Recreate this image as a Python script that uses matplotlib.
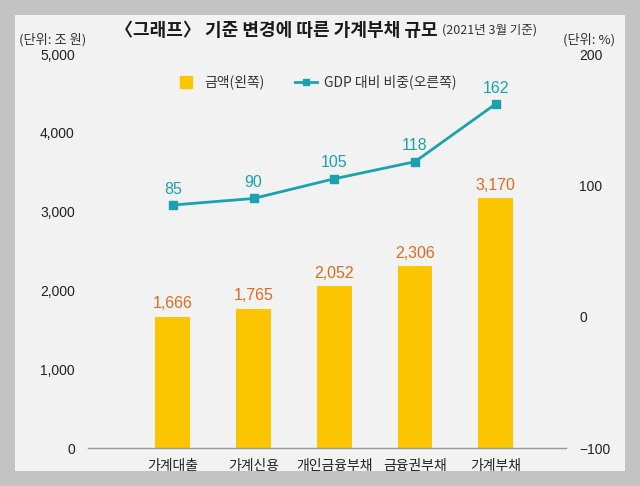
import matplotlib
matplotlib.use("Agg")
import matplotlib.pyplot as plt
from matplotlib.patches import Rectangle
from matplotlib.lines import Line2D
from matplotlib.ticker import FuncFormatter

plt.rcParams['font.family'] = ['Noto Sans CJK KR', 'DejaVu Sans']

categories = ['가계대출', '가계신용', '개인금융부채', '금융권부채', '가계부채']
amounts = [1666, 1765, 2052, 2306, 3170]
gdp_ratio = [85, 90, 105, 118, 162]
left_ticks = [0, 1000, 2000, 3000, 4000, 5000]
right_ticks = [-100, 0, 100, 200]

title = '〈그래프〉 기준 변경에 따른 가계부채 규모'
subtitle = '(2021년 3월 기준)'
left_unit = '(단위: 조 원)'
right_unit = '(단위: %)'
legend_bar = '금액(왼쪽)'
legend_line = 'GDP 대비 비중(오른쪽)'

BAR = '#fbc600'
ORANGE = '#df6a1f'
TEAL = '#1ba2af'
TXT = '#222222'
NUMF = ['Liberation Sans', 'DejaVu Sans']

W, H = 640, 486
fig = plt.figure(figsize=(6.4, 4.86), dpi=100)
fig.patch.set_facecolor('#c3c3c3')

# inner panel
px0, px1, py0, py1 = 15, 625, 15, 471
fig.patches.append(Rectangle((px0 / W, 1 - py1 / H), (px1 - px0) / W, (py1 - py0) / H,
                             transform=fig.transFigure, facecolor='#f2f2f2',
                             edgecolor='none', zorder=-5))

ax_l, ax_r, ax_b, ax_t = 88, 566, 448, 54
ax = fig.add_axes([ax_l / W, 1 - ax_b / H, (ax_r - ax_l) / W, (ax_b - ax_t) / H])
ax.set_facecolor('none')
x = list(range(len(categories)))
bars = ax.bar(x, amounts, width=0.43, color=BAR, zorder=2)
ax.set_xlim(-1.05, 4.87)
ax.set_ylim(0, 5000)
ax.set_yticks(left_ticks)
ax.yaxis.set_major_formatter(FuncFormatter(lambda v, p: f'{int(v):,}'))
ax.set_xticks(x)
ax.set_xticklabels(categories, fontsize=10, color=TXT)
for s in ['top', 'right', 'left']:
    ax.spines[s].set_visible(False)
ax.spines['bottom'].set_color('#9a9a9a')
ax.spines['bottom'].set_linewidth(1.0)
ax.tick_params(axis='y', length=0, pad=9.5, labelsize=10, labelcolor=TXT)
ax.tick_params(axis='x', length=0, pad=8)
for lab in ax.get_yticklabels():
    lab.set_family(NUMF)

for xi, v in zip(x, amounts):
    ax.annotate(f'{v:,}', (xi, v), xytext=(0, 4), textcoords='offset points',
                ha='center', va='bottom', fontsize=11.5, color=ORANGE, family=NUMF)

ax2 = ax.twinx()
ax2.set_ylim(-100, 200)
ax2.set_yticks(right_ticks)
ax2.yaxis.set_major_formatter(FuncFormatter(lambda v, p: f'{int(v)}'.replace('-', '−')))
for s in ['top', 'left', 'right', 'bottom']:
    ax2.spines[s].set_visible(False)
ax2.tick_params(axis='y', length=0, pad=9.5, labelsize=10, labelcolor=TXT)
for lab in ax2.get_yticklabels():
    lab.set_family(NUMF)
ax2.plot(x, gdp_ratio, color=TEAL, lw=2, marker='s', markersize=6, zorder=3)
for xi, v in zip(x, gdp_ratio):
    ax2.annotate(f'{v}', (xi, v), xytext=(0, 6), textcoords='offset points',
                 ha='center', va='bottom', fontsize=11.5, color=TEAL, family=NUMF)

# texts
fig.text(115 / W, 1 - 30 / H, title, ha='left', va='center', fontsize=13,
         fontweight='bold', color='#1a1a1a')
fig.text(442 / W, 1 - 30 / H, subtitle, ha='left', va='center', fontsize=9, color='#333333')
fig.text(19 / W, 1 - 40 / H, left_unit, ha='left', va='center', fontsize=9.5, color='#333333')
fig.text(615 / W, 1 - 40 / H, right_unit, ha='right', va='center', fontsize=9.5, color='#333333')

handles = [Line2D([], [], color=BAR, marker='s', markersize=8, linestyle='none'),
           Line2D([], [], color=TEAL, marker='s', markersize=5, lw=2)]
fig.legend(handles, [legend_bar, legend_line], loc='center', ncol=2,
           bbox_to_anchor=(316 / W, 1 - 82 / H), frameon=False, fontsize=10,
           handlelength=1.6, handletextpad=0.5, columnspacing=2.2,
           labelcolor='#333333')

# border on top (clips category labels like the reference)
for (a, b, c, d) in [(0, 0, W, py0), (0, py1, W, H - py1), (0, 0, px0, H), (px1, 0, W - px1, H)]:
    fig.patches.append(Rectangle((a / W, 1 - (b + d) / H), c / W, d / H,
                                 transform=fig.transFigure, facecolor='#c3c3c3',
                                 edgecolor='none', zorder=10))

fig.savefig('out.png', dpi=100, facecolor=fig.get_facecolor())
